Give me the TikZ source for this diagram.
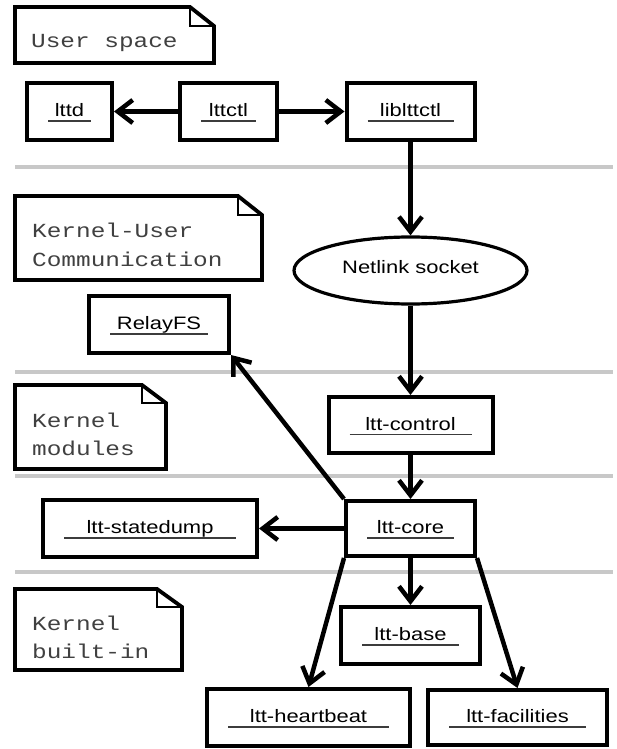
\documentclass[tikz,border=0pt]{standalone}
\usepackage{fontspec}
\usetikzlibrary{arrows.meta,shapes.geometric,calc}
\newfontfamily\labelfont{Liberation Sans}[FakeStretch=1.22]
\newfontfamily\notefont{Liberation Mono}[FakeStretch=1.22]
\definecolor{sepgray}{RGB}{200,200,200}
\definecolor{ulgray}{RGB}{60,60,60}

\begin{document}
\begin{tikzpicture}[x=1pt,y=-1pt,
  comp/.style={draw, line width=4pt, inner sep=0pt,
    font=\labelfont\fontsize{18}{20}\selectfont,
    text height=10pt, text depth=0pt,
    path picture={\draw[ulgray, line width=1.6pt]
      ([xshift=21pt,yshift=-9.5pt]path picture bounding box.west) --
      ([xshift=-21pt,yshift=-9.5pt]path picture bounding box.east);}},
  sock/.style={draw, ellipse, line width=3.2pt, inner sep=0pt,
    font=\labelfont\fontsize{18}{20}\selectfont,
    text height=9pt, text depth=4pt},
  arr/.style={line width=4.5pt, -{Straight Barb[length=15pt,width=23pt]}},
  notebody/.style={line width=3.8pt, line join=miter},
  notefold/.style={line width=1.5pt},
  notetext/.style={anchor=base west, inner sep=0pt, text=black!75,
    font=\notefont\fontsize{20}{24}\selectfont},
  sep/.style={draw=sepgray, line width=3.5pt}]

\useasboundingbox (0,0) rectangle (617,749);

% layer separators
\draw[sep] (15,167) -- (613,167);
\draw[sep] (15,372) -- (613,372);
\draw[sep] (15,476) -- (613,476);
\draw[sep] (15,572) -- (613,572);

% layer notes
\draw[notebody] (15,7) -- (190,7) -- (214,26) -- (214,63) -- (15,63) -- cycle;
\draw[notefold] (190,7) -- (190,26) -- (214,26);
\node[notetext] (nuser) at (31,48) {User space};

\draw[notebody] (15,196) -- (238,196) -- (262,215) -- (262,280) -- (15,280) -- cycle;
\draw[notefold] (238,196) -- (238,215) -- (262,215);
\node[notetext] (nku1) at (32,237) {Kernel-User};
\node[notetext] (nku2) at (32,266) {Communication};

\draw[notebody] (15,385) -- (142,385) -- (166,403) -- (166,469) -- (15,469) -- cycle;
\draw[notefold] (142,385) -- (142,403) -- (166,403);
\node[notetext] (nkm1) at (32,427) {Kernel};
\node[notetext] (nkm2) at (32,455) {modules};

\draw[notebody] (15,589) -- (157,589) -- (182,607) -- (182,670) -- (15,670) -- cycle;
\draw[notefold] (157,589) -- (157,607) -- (182,607);
\node[notetext] (nkb1) at (32,630) {Kernel};
\node[notetext] (nkb2) at (32,658) {built-in};

% components
\node[comp, minimum width=85pt,  minimum height=57pt] (lttd)   at (69.5,111.5)  {lttd};
\node[comp, minimum width=97pt,  minimum height=57pt] (lttctl) at (228.5,111.5) {lttctl};
\node[comp, minimum width=128pt, minimum height=57pt] (lib)    at (410.5,111.5) {liblttctl};
\node[sock, minimum width=233pt, minimum height=67pt] (netlink) at (410.5,270.5) {Netlink socket};
\node[comp, minimum width=140pt, minimum height=57pt] (relay)  at (159,324.5)   {RelayFS};
\node[comp, minimum width=164pt, minimum height=56pt] (control) at (410.5,425)  {ltt-control};
\node[comp, minimum width=129pt, minimum height=55pt] (core)   at (410.5,528.5) {ltt-core};
\node[comp, minimum width=214pt, minimum height=57pt] (dump)   at (150,528.5)   {ltt-statedump};
\node[comp, minimum width=139pt, minimum height=57pt] (base)   at (410.5,635.5) {ltt-base};
\node[comp, minimum width=203pt, minimum height=57pt] (heart)  at (308.5,717.5) {ltt-heartbeat};
\node[comp, minimum width=179pt, minimum height=55pt] (fac)    at (517.5,717.5) {ltt-facilities};

% connectors
\draw[arr] (lttctl) -- (lttd);
\draw[arr] (lttctl) -- (lib);
\draw[arr] (lib) -- (netlink);
\draw[arr] (netlink) -- (control);
\draw[arr] (control) -- (core);
\draw[arr] (core.north west) -- (relay.south east);
\draw[arr] (core) -- (dump);
\draw[arr] (core) -- (base);
\draw[arr] (core.south west) -- (heart.north);
\draw[arr] (core.south east) -- (fac.north);
\end{tikzpicture}
\end{document}
